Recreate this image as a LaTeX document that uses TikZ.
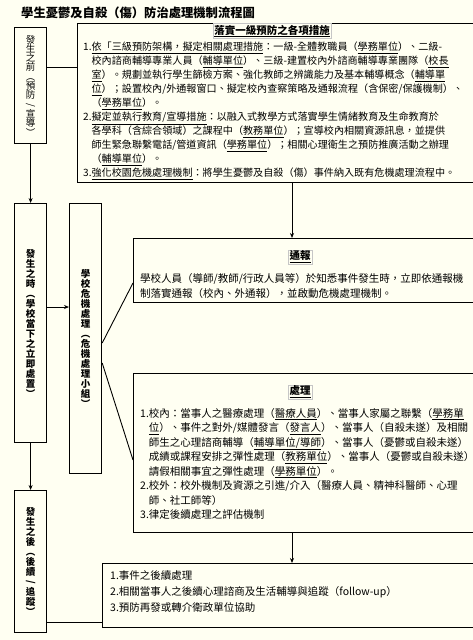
\documentclass[tikz,border=0pt]{standalone}
\usepackage{fontspec}
\newfontfamily\cjk{Noto Sans CJK TC}
\usetikzlibrary{
  arrows.meta, % 箭頭樣式
  positioning  % 節點相對定位
}
\definecolor{paper}{RGB}{255,255,242}
\newcommand{\udl}[1]{\underline{#1}}
\newcommand{\vslash}{\rotatebox[origin=c]{-90}{/}}

\begin{document}
\begin{tikzpicture}[x=1pt, y=-1pt, >={Stealth[length=5pt,width=4pt]},
  stage/.style={draw, line width=1.2pt, minimum width=32pt, anchor=north west,
    inner sep=0pt, align=center, font=\cjk\bfseries\fontsize{9.5}{10}\selectfont},
  panel/.style={draw, line width=1.1pt, anchor=north west, inner sep=0pt},
  body/.style={anchor=north west, inner sep=0pt, align=left,
    font=\cjk\fontsize{10.5}{#1}\selectfont},
  body/.default=14,
  heading/.style={draw=gray!45, inner sep=1.2pt, font=\cjk\bfseries\fontsize{10.5}{12}\selectfont},
  link/.style={line width=0.9pt}]

  % 底色與邊界
  \useasboundingbox (0,0) rectangle (473,640);
  \clip (0,0) rectangle (473,640);
  \fill[paper] (0,0) rectangle (473,640);

  % --- 標題 ---
  \node[anchor=west, inner sep=0pt, font=\cjk\bfseries\fontsize{12.3}{14}\selectfont] (title) at (21,13)
    {學生憂鬱及自殺（傷）防治處理機制流程圖};

  % --- 左側階段 ---
  \node[stage, minimum height=116pt, font=\cjk\fontsize{9.5}{9.3}\selectfont] (before) at (14,27)
    {發\\生\\之\\前\\︵\\預\\防\\\vslash\\宣\\導\\︶};
  \node[stage, minimum height=239pt] (during) at (14,203)
    {發\\生\\之\\時\\︵\\學\\校\\當\\下\\之\\立\\即\\處\\置\\︶};
  \node[stage, minimum height=270pt] (crisis) at (69,203)
    {學\\校\\危\\機\\處\\理\\︵\\危\\機\\處\\理\\小\\組\\︶};
  \node[stage, minimum height=142pt] (after) at (14,490)
    {發\\生\\之\\後\\︵\\後\\續\\\vslash\\追\\蹤\\︶};

  % --- 右側說明框 ---
  \node[panel, minimum width=410pt, minimum height=159pt] (prevent) at (77,23) {};
  \node[panel, minimum width=350pt, minimum height=64pt]  (report)  at (133,238) {};
  \node[panel, minimum width=350pt, minimum height=159pt] (handle)  at (133,373) {};
  \node[panel, minimum width=380pt, minimum height=64pt]  (follow)  at (102,563) {};

  % 預防
  \node[heading] (preventhead) at (272,31) {\udl{落實一級預防之各項措施}};
  \node[body, font=\cjk\fontsize{10.1}{14}\selectfont] (preventtext) at (83,42) {%
    1.\udl{依「三級預防架構，擬定相關處理措施}：一級-全體教職員（\udl{學務單位}）、二級-\\
    \phantom{1.}校內諮商輔導專業人員（\udl{輔導單位}）、三級-建置校內外諮商輔導專業團隊（\udl{校長}\\
    \phantom{1.}\udl{室}）。規劃並執行學生篩檢方案、強化教師之辨識能力及基本輔導概念（\udl{輔導單}\\
    \phantom{1.}\udl{位}）；設置校內/外通報窗口、擬定校內查察策略及通報流程（含保密/保護機制）、\\
    \phantom{1.}（\udl{學務單位}）。\\
    2.\udl{擬定並執行教育/宣導措施}：以融入式教學方式落實學生情緒教育及生命教育於\\
    \phantom{2.}各學科（含綜合領域）之課程中（\udl{教務單位}）；宣導校內相關資源訊息，並提供\\
    \phantom{2.}師生緊急聯繫電話/管道資訊（\udl{學務單位}）；相關心理衛生之預防推廣活動之辦理\\
    \phantom{2.}（\udl{輔導單位}）。\\
    3.\udl{強化校園危機處理機制}：將學生憂鬱及自殺（傷）事件納入既有危機處理流程中。};

  % 通報
  \node[heading] (reporthead) at (300,257) {\udl{通報}};
  \node[body=15] (reporttext) at (140,273) {%
    學校人員（導師/教師/行政人員等）於知悉事件發生時，立即依通報機\\
    制落實通報（校內、外通報），並啟動危機處理機制。};

  % 處理
  \node[heading] (handlehead) at (300,392) {\udl{處理}};
  \node[body=14.5] (handletext) at (140,408) {%
    1.校內：當事人之醫療處理（\udl{醫療人員}）、當事人家屬之聯繫（\udl{學務單}\\
    \phantom{1.}\udl{位}）、事件之對外/媒體發言（\udl{發言人}）、當事人（自殺未遂）及相關\\
    \phantom{1.}師生之心理諮商輔導（\udl{輔導單位/導師}）、當事人（憂鬱或自殺未遂）\\
    \phantom{1.}成績或課程安排之彈性處理（\udl{教務單位}）、當事人（憂鬱或自殺未遂）\\
    \phantom{1.}請假相關事宜之彈性處理（\udl{學務單位}）。\\
    2.校外：校外機制及資源之引進/介入（醫療人員、精神科醫師、心理\\
    \phantom{2.}師、社工師等）\\
    3.律定後續處理之評估機制};

  % 後續
  \node[body=16] (followtext) at (110,570) {%
    1.事件之後續處理\\
    2.相關當事人之後續心理諮商及生活輔導與追蹤（follow-up）\\
    3.預防再發或轉介衛政單位協助};

  % --- 連接線 ---
  \draw[link] (before.east |- 0,67) -- (prevent.west |- 0,67);
  \draw[link,->] (before) -- (during);
  \draw[link,->] (during) -- (after);
  \draw[link,->] (during.east |- 0,307) -- (crisis.west |- 0,307);
  \draw[link,->] (prevent.south -| 292,0) -- (report.north -| 292,0);
  \draw[link] (crisis.east |- 0,343) -- (report.west |- 0,283);
  \draw[link] (crisis.east |- 0,363) -- (handle.west |- 0,460);
  \draw[link,->] (handle.south -| 292,0) -- (follow.north -| 292,0);
  \draw[link] (after.east |- 0,622) -- (follow.west |- 0,622);

\end{tikzpicture}
\end{document}
